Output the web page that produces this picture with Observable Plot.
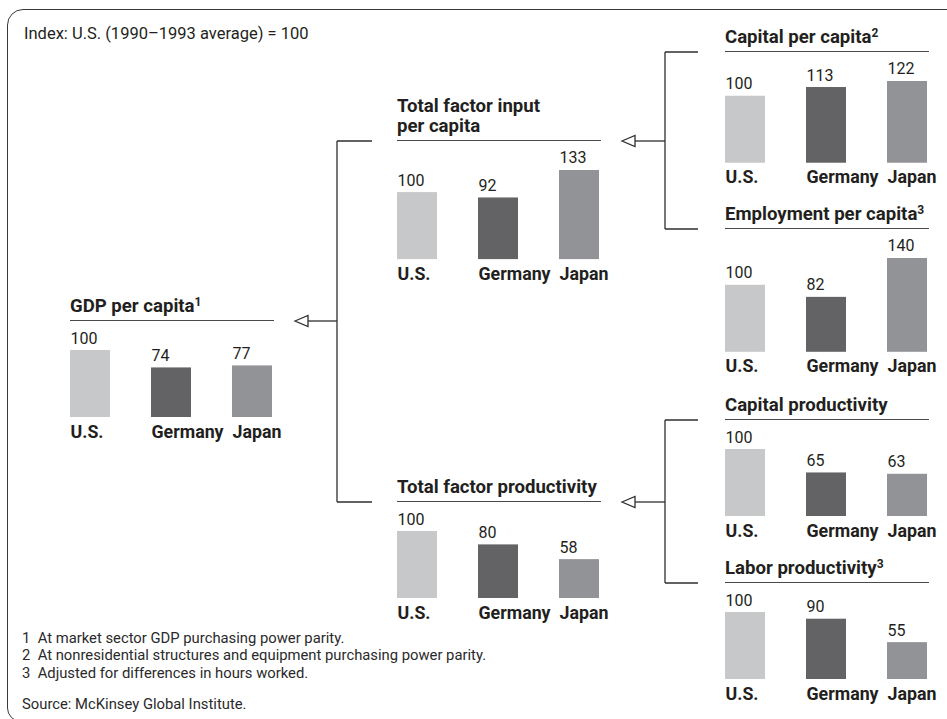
<!DOCTYPE html>
<html>
<head>
<meta charset="utf-8">
<script src="https://cdn.jsdelivr.net/npm/d3@7"></script>
<script src="https://cdn.jsdelivr.net/npm/@observablehq/plot@0.6"></script>
<style>
  html, body { margin: 0; padding: 0; background: #fff; }
  #root { position: relative; width: 947px; height: 719px; overflow: hidden; background: #fff; font-family: Roboto, "Noto Sans", sans-serif; color: #231f20; }
  #frame { position: absolute; left: 7px; top: 9px; width: 1000px; height: 713px; border: 1.4px solid #3a3a3a; border-top-left-radius: 16px; border-bottom-left-radius: 14px; box-sizing: border-box; }
  #header { position: absolute; left: 24px; top: 24px; font-size: 16.5px; line-height: 20px; white-space: nowrap; }
  .panel { position: absolute; width: 0; height: 0; }
  .ptitle { position: absolute; left: 0; bottom: 0; width: 204px; font-weight: bold; font-size: 18.6px; line-height: 20px; padding-bottom: 4.5px; border-bottom: 1.3px solid #4a4a4a; white-space: nowrap; }
  .ptitle .sup { font-size: 12px; vertical-align: 6px; }
  .panel svg { position: absolute; left: 0; top: 0; overflow: visible; max-width: none !important; }
  #notes { position: absolute; left: 22px; top: 629.5px; font-size: 14.8px; line-height: 17.5px; color: #2a2a2a; white-space: nowrap; }
  #notes .src { margin-top: 13.5px; }
  #links { position: absolute; left: 0; top: 0; }
</style>
</head>
<body>
<div id="root">
  <div id="frame"></div>
  <div id="header">Index: U.S. (1990–1993 average) = 100</div>
  <div id="notes">
    <div>1&nbsp; At market sector GDP purchasing power parity.</div>
    <div>2&nbsp; At nonresidential structures and equipment purchasing power parity.</div>
    <div>3&nbsp; Adjusted for differences in hours worked.</div>
    <div class="src">Source: McKinsey Global Institute.</div>
  </div>
</div>
<script>
// ---- data ----
const countries = ["U.S.", "Germany", "Japan"];
const countryColors = ["#c7c8ca", "#636365", "#929397"];
const gdpPerCapita = [100, 74, 77];
const totalFactorInputPerCapita = [100, 92, 133];
const totalFactorProductivity = [100, 80, 58];
const capitalPerCapita = [100, 113, 122];
const employmentPerCapita = [100, 82, 140];
const capitalProductivity = [100, 65, 63];
const laborProductivity = [100, 90, 55];

// ---- layout (positions of panels: bar-area left edge, underline y) ----
const K = 0.67; // px per index point
const panels = [
  {id: "gdp", title: "GDP per capita", sup: "1", values: gdpPerCapita, x: 70, uy: 321},
  {id: "tfi", title: "Total factor input<br>per capita", sup: "", values: totalFactorInputPerCapita, x: 397, uy: 141},
  {id: "tfp", title: "Total factor productivity", sup: "", values: totalFactorProductivity, x: 397, uy: 502},
  {id: "cap", title: "Capital per capita", sup: "2", values: capitalPerCapita, x: 725, uy: 52},
  {id: "emp", title: "Employment per capita", sup: "3", values: employmentPerCapita, x: 725, uy: 229},
  {id: "cpr", title: "Capital productivity", sup: "", values: capitalProductivity, x: 725, uy: 420},
  {id: "lpr", title: "Labor productivity", sup: "3", values: laborProductivity, x: 725, uy: 583}
];

const root = document.getElementById("root");
const TOP = 29, BOTTOM = 32, AREA = 204;

for (const p of panels) {
  const data = countries.map((c, i) => ({country: c, value: p.values[i]}));
  const max = d3.max(p.values);
  const plotH = TOP + max * K + BOTTOM;
  const div = document.createElement("div");
  div.className = "panel";
  div.style.left = p.x + "px";
  div.style.top = p.uy + "px";
  const t = document.createElement("div");
  t.className = "ptitle";
  t.innerHTML = p.title + (p.sup ? `<span class="sup">${p.sup}</span>` : "");
  div.appendChild(t);
  const chart = Plot.plot({
    width: AREA + 30,
    height: plotH,
    marginLeft: 0, marginRight: 30, marginTop: TOP, marginBottom: BOTTOM,
    style: {fontFamily: "Roboto, sans-serif", color: "#231f20", background: "transparent", overflow: "visible", maxWidth: "none"},
    x: {type: "band", domain: countries, range: [0, AREA], paddingInner: 0.512, paddingOuter: 0, align: 0},
    y: {domain: [0, max], range: [TOP + max * K, TOP], axis: null},
    color: {domain: countries, range: countryColors},
    marks: [
      Plot.barY(data, {x: "country", y: "value", fill: "country"}),
      Plot.text(data, {x: "country", y: "value", text: d => String(d.value), dx: -20, dy: -7, textAnchor: "start", lineAnchor: "bottom", fontSize: 16, fill: "#231f20"}),
      Plot.axisX({tickSize: 0, tickPadding: 7.5, textAnchor: "start", dx: -20, fontSize: 17.8, fontWeight: "bold", label: null, fill: "#231f20"})
    ]
  });
  chart.setAttribute("width", AREA + 30);
  chart.setAttribute("height", plotH);
  chart.style.width = (AREA + 30) + "px";
  chart.style.height = plotH + "px";
  div.appendChild(chart);
  root.appendChild(div);
}

// ---- connectors ----
const P = Object.fromEntries(panels.map(p => [p.id, p]));
const svg = d3.select(root).append("svg").attr("id", "links").attr("width", 947).attr("height", 719);
const g = svg.append("g").attr("fill", "none").attr("stroke", "#2f2f2f").attr("stroke-width", 1.3);
function bracket(child, upper, lower, xv, gapLeft) {
  const tip = child.x + AREA + 21, base = tip + 13, y = child.uy;
  g.append("path").attr("fill", "#fff").attr("d", `M${tip},${y}L${base},${y - 5.5}L${base},${y + 5.5}Z`);
  g.append("path").attr("d", `M${base},${y}H${xv}`);
  g.append("path").attr("d", `M${xv},${upper.uy}V${lower.uy}`);
  g.append("path").attr("d", `M${xv},${upper.uy}H${upper.x - gapLeft}M${xv},${lower.uy}H${lower.x - gapLeft}`);
}
bracket(P.gdp, P.tfi, P.tfp, 337, 25);
bracket(P.tfi, P.cap, P.emp, 665, 27);
bracket(P.tfp, P.cpr, P.lpr, 665, 27);
</script>
</body>
</html>
